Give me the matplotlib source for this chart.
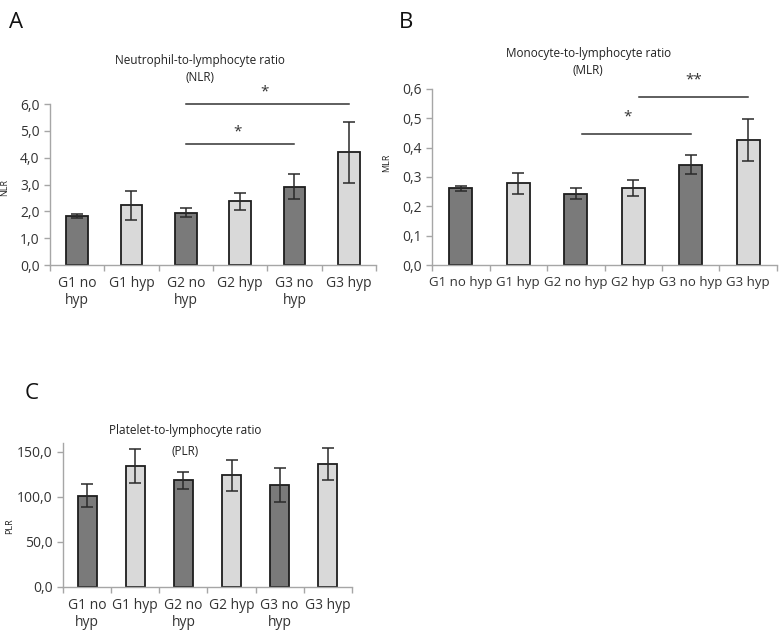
import matplotlib.pyplot as plt
import numpy as np

plt.rcParams['font.family'] = ['Open Sans', 'DejaVu Sans']

groups_wrap = ['G1 no\nhyp', 'G1 hyp', 'G2 no\nhyp', 'G2 hyp', 'G3 no\nhyp', 'G3 hyp']
groups_flat = ['G1 no hyp', 'G1 hyp', 'G2 no hyp', 'G2 hyp', 'G3 no hyp', 'G3 hyp']

nlr = [1.83, 2.22, 1.95, 2.38, 2.92, 4.20]
nlr_err = [0.09, 0.55, 0.16, 0.32, 0.47, 1.14]

mlr = [0.261, 0.278, 0.243, 0.263, 0.342, 0.426]
mlr_err = [0.010, 0.036, 0.018, 0.027, 0.033, 0.070]

plr = [101.3, 134.5, 118.5, 124.2, 113.0, 136.8]
plr_err = [12.8, 19.0, 9.7, 17.2, 18.8, 17.8]

# significance brackets: (from group, to group, line height, stars)
nlr_sig = [(2, 5, 6.0, '*'), (2, 4, 4.5, '*')]
mlr_sig = [(2.1, 4, 0.446, '*'), (3.1, 5, 0.572, '**')]

dark = '#7a7a7a'
light = '#d9d9d9'
edge = '#1e1e1e'
axis_col = '#a6a6a6'
txt_col = '#333333'

fig = plt.figure(figsize=(7.8, 6.31), dpi=100)


def panel(rect, vals, errs, labels, ylim, yticks, fmt, ylabel, fs_tick=10):
    ax = fig.add_axes(rect)
    x = np.arange(len(vals))
    colors = [dark if i % 2 == 0 else light for i in range(len(vals))]
    ax.bar(x, vals, width=0.4, color=colors, edgecolor=edge, linewidth=1.3, zorder=2)
    ax.errorbar(x, vals, yerr=errs, fmt='none', ecolor='#2a2a2a', elinewidth=1.1,
                capsize=4, capthick=1.1, zorder=3)
    ax.set_xlim(-0.5, len(vals) - 0.5)
    ax.set_ylim(*ylim)
    ax.set_yticks(yticks)
    ax.set_yticklabels([fmt(v) for v in yticks], fontsize=10, color=txt_col)
    ax.set_xticks(x)
    ax.set_xticklabels(labels, fontsize=fs_tick, color=txt_col, linespacing=1.15)
    ax.set_xticks(np.arange(-0.5, len(vals)), minor=True)
    ax.tick_params(axis='x', which='major', length=0, pad=8)
    ax.tick_params(axis='x', which='minor', length=4, color=axis_col, width=1)
    ax.tick_params(axis='y', length=4, color=axis_col, width=1)
    for s in ['top', 'right']:
        ax.spines[s].set_visible(False)
    for s in ['left', 'bottom']:
        ax.spines[s].set_color(axis_col)
        ax.spines[s].set_linewidth(1)
    ax.set_ylabel(ylabel, fontsize=6.5, color='#222222')
    return ax


def comma(v, d):
    return f'{v:.{d}f}'.replace('.', ',')


# Panel A
axA = panel([0.064, 0.580, 0.418, 0.255], nlr, nlr_err, groups_wrap, (0, 6.0),
            np.arange(0, 6.01, 1.0), lambda v: comma(v, 1), 'NLR')
axA.yaxis.set_label_coords(-0.125, 0.48)
for a, b, h, s in nlr_sig:
    axA.plot([a, b], [h, h], color='#333333', lw=1.1, clip_on=False)
    axA.text((a + b) / 2 - 0.05, h + 0.45, s, ha='center', va='center', fontsize=11, color='#333333')
fig.text(0.256, 0.899, 'Neutrophil-to-lymphocyte ratio', ha='center', fontsize=8.5, color='#222222')
fig.text(0.256, 0.872, '(NLR)', ha='center', fontsize=8.5, color='#222222')
fig.text(0.012, 0.965, 'A', fontsize=16, color='#111111', va='center')

# Panel B
axB = panel([0.554, 0.580, 0.442, 0.279], mlr, mlr_err, groups_flat, (0, 0.6),
            np.arange(0, 0.601, 0.1), lambda v: comma(v, 1), 'MLR', fs_tick=9.5)
axB.yaxis.set_label_coords(-0.12, 0.58)
for a, b, h, s in mlr_sig:
    axB.plot([a, b], [h, h], color='#333333', lw=1.1, clip_on=False)
    axB.text((a + b) / 2 - 0.15 if s == '*' else (a + b) / 2 + 0.0, h + 0.058, s,
             ha='center', va='center', fontsize=11, color='#333333')
fig.text(0.754, 0.909, 'Monocyte-to-lymphocyte ratio', ha='center', fontsize=8.5, color='#222222')
fig.text(0.754, 0.883, '(MLR)', ha='center', fontsize=8.5, color='#222222')
fig.text(0.512, 0.965, 'B', fontsize=16, color='#111111', va='center')

# Panel C
axC = panel([0.081, 0.0700, 0.370, 0.2280], plr, plr_err, groups_wrap, (0, 160),
            [0, 50, 100, 150], lambda v: comma(v, 1), 'PLR')
axC.yaxis.set_label_coords(-0.17, 0.42)
fig.text(0.237, 0.312, 'Platelet-to-lymphocyte ratio', ha='center', fontsize=8.5, color='#222222')
fig.text(0.237, 0.279, '(PLR)', ha='center', fontsize=8.5, color='#222222')
fig.text(0.031, 0.377, 'C', fontsize=16, color='#111111', va='center')

fig.savefig('out.png', dpi=100)
